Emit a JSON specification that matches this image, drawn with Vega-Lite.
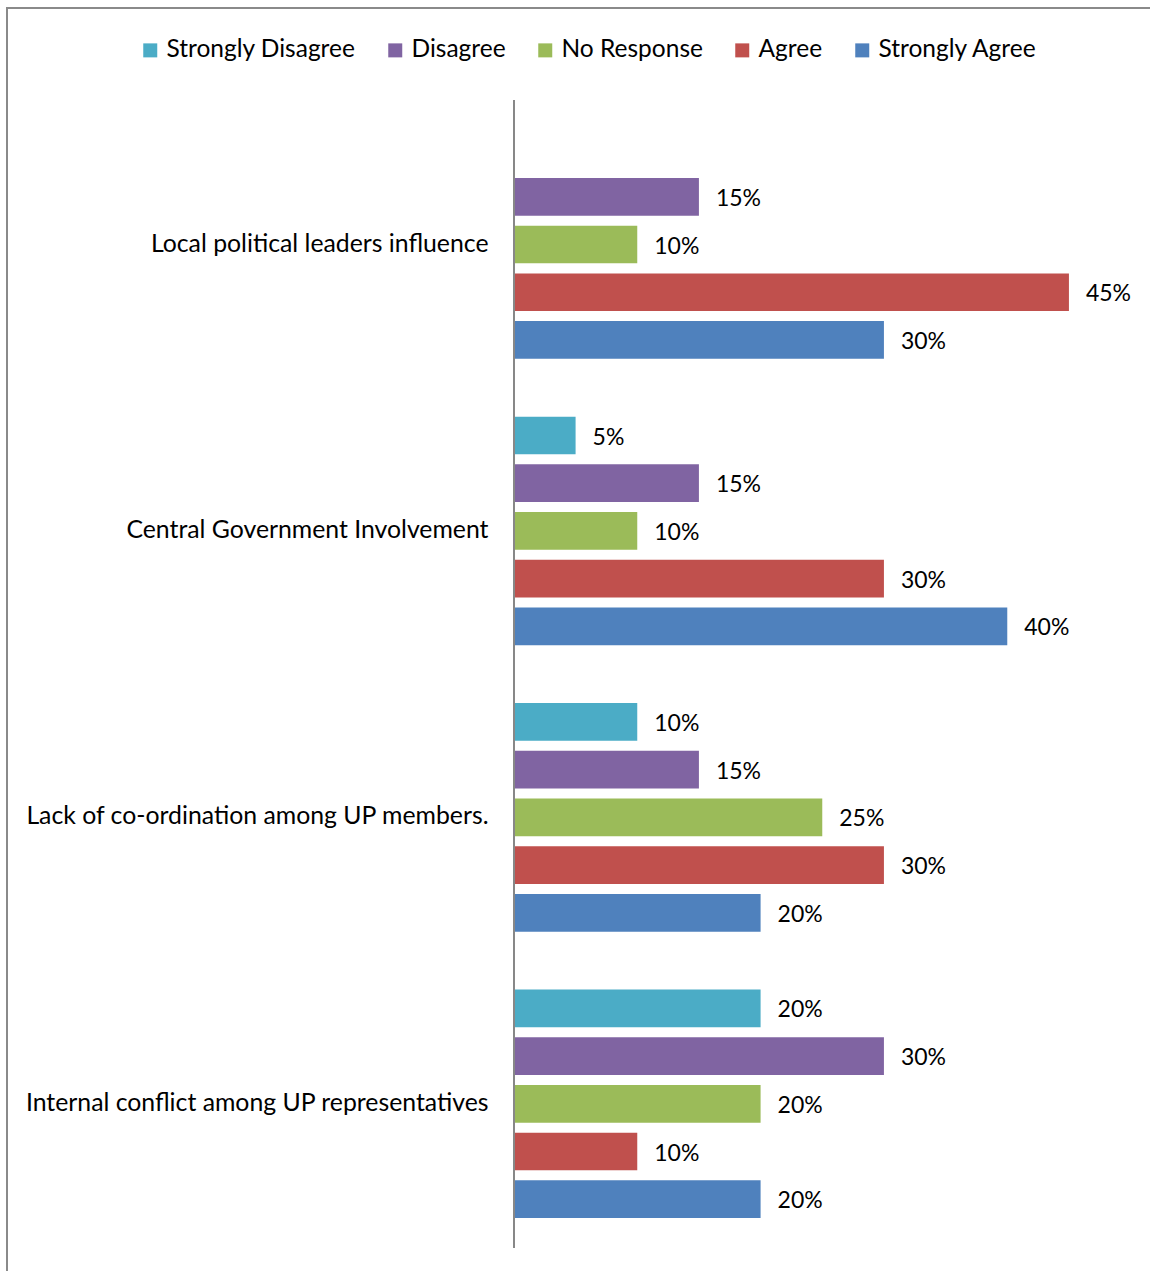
{
  "$schema": "https://vega.github.io/schema/vega-lite/v6.json",
  "width": 1150,
  "height": 1270,
  "autosize": {"type": "none"},
  "padding": {"left": 7, "top": 8, "right": -7, "bottom": -7},
  "background": "white",
  "config": {
    "view": {"stroke": "#8a8a8a", "strokeWidth": 2},
    "font": "Lato",
    "legend": {
      "labelFont": "Lato",
      "labelFontSize": 24.5,
      "labelColor": "black",
      "symbolType": "square",
      "symbolSize": 196,
      "symbolStrokeWidth": 0,
      "columnPadding": 27,
      "labelOffset": 4,
      "labelLimit": 400
    }
  },
  "data": {
    "values": [
      {"category": "Local political leaders influence", "response": "Disagree", "value": 0.15},
      {"category": "Local political leaders influence", "response": "No Response", "value": 0.10},
      {"category": "Local political leaders influence", "response": "Agree", "value": 0.45},
      {"category": "Local political leaders influence", "response": "Strongly Agree", "value": 0.30},
      {"category": "Central Government Involvement", "response": "Strongly Disagree", "value": 0.05},
      {"category": "Central Government Involvement", "response": "Disagree", "value": 0.15},
      {"category": "Central Government Involvement", "response": "No Response", "value": 0.10},
      {"category": "Central Government Involvement", "response": "Agree", "value": 0.30},
      {"category": "Central Government Involvement", "response": "Strongly Agree", "value": 0.40},
      {"category": "Lack of co-ordination among UP members.", "response": "Strongly Disagree", "value": 0.10},
      {"category": "Lack of co-ordination among UP members.", "response": "Disagree", "value": 0.15},
      {"category": "Lack of co-ordination among UP members.", "response": "No Response", "value": 0.25},
      {"category": "Lack of co-ordination among UP members.", "response": "Agree", "value": 0.30},
      {"category": "Lack of co-ordination among UP members.", "response": "Strongly Agree", "value": 0.20},
      {"category": "Internal conflict among UP representatives", "response": "Strongly Disagree", "value": 0.20},
      {"category": "Internal conflict among UP representatives", "response": "Disagree", "value": 0.30},
      {"category": "Internal conflict among UP representatives", "response": "No Response", "value": 0.20},
      {"category": "Internal conflict among UP representatives", "response": "Agree", "value": 0.10},
      {"category": "Internal conflict among UP representatives", "response": "Strongly Agree", "value": 0.20}
    ]
  },
  "encoding": {
    "y": {
      "field": "category",
      "type": "nominal",
      "sort": ["Local political leaders influence", "Central Government Involvement", "Lack of co-ordination among UP members.", "Internal conflict among UP representatives"],
      "scale": {"paddingInner": 0.202, "paddingOuter": 0.318, "align": 0.671},
      "axis": {
        "title": null,
        "orient": "left",
        "offset": -507,
        "domain": false,
        "ticks": false,
        "grid": false,
        "labelPadding": 26,
        "labelFont": "Lato",
        "labelFontSize": 24.8,
        "labelColor": "black",
        "labelLimit": 600
      }
    },
    "x": {
      "field": "value",
      "type": "quantitative",
      "scale": {"domain": [-0.411, 0.5214], "nice": false, "zero": false},
      "axis": null
    }
  },
  "layer": [
    {
      "mark": {"type": "bar"},
      "encoding": {
        "x2": {"datum": 0},
        "yOffset": {
          "field": "response",
          "type": "nominal",
          "sort": ["Strongly Disagree", "Disagree", "No Response", "Agree", "Strongly Agree"],
          "scale": {"paddingInner": 0.21, "paddingOuter": 0}
        },
        "color": {
          "field": "response",
          "type": "nominal",
          "scale": {
            "domain": ["Strongly Disagree", "Disagree", "No Response", "Agree", "Strongly Agree"],
            "range": ["#4BACC6", "#8064A2", "#9BBB59", "#C0504D", "#4F81BD"]
          },
          "legend": {
            "orient": "none",
            "direction": "horizontal",
            "legendX": 131,
            "legendY": 30,
            "title": null
          }
        }
      }
    },
    {
      "mark": {"type": "text", "align": "left", "baseline": "middle", "dx": 17, "dy": 2, "fontSize": 23, "font": "Lato", "color": "black"},
      "encoding": {
        "yOffset": {
          "field": "response",
          "type": "nominal",
          "sort": ["Strongly Disagree", "Disagree", "No Response", "Agree", "Strongly Agree"]
        },
        "text": {"field": "value", "type": "quantitative", "format": ".0%"}
      }
    },
    {
      "mark": {"type": "rule", "color": "#888888", "strokeWidth": 1.5},
      "encoding": {
        "x": {"datum": 0},
        "y": {"datum": "Local political leaders influence", "bandPosition": -0.13},
        "y2": {"datum": "Internal conflict among UP representatives", "bandPosition": 1.13}
      }
    }
  ]
}
